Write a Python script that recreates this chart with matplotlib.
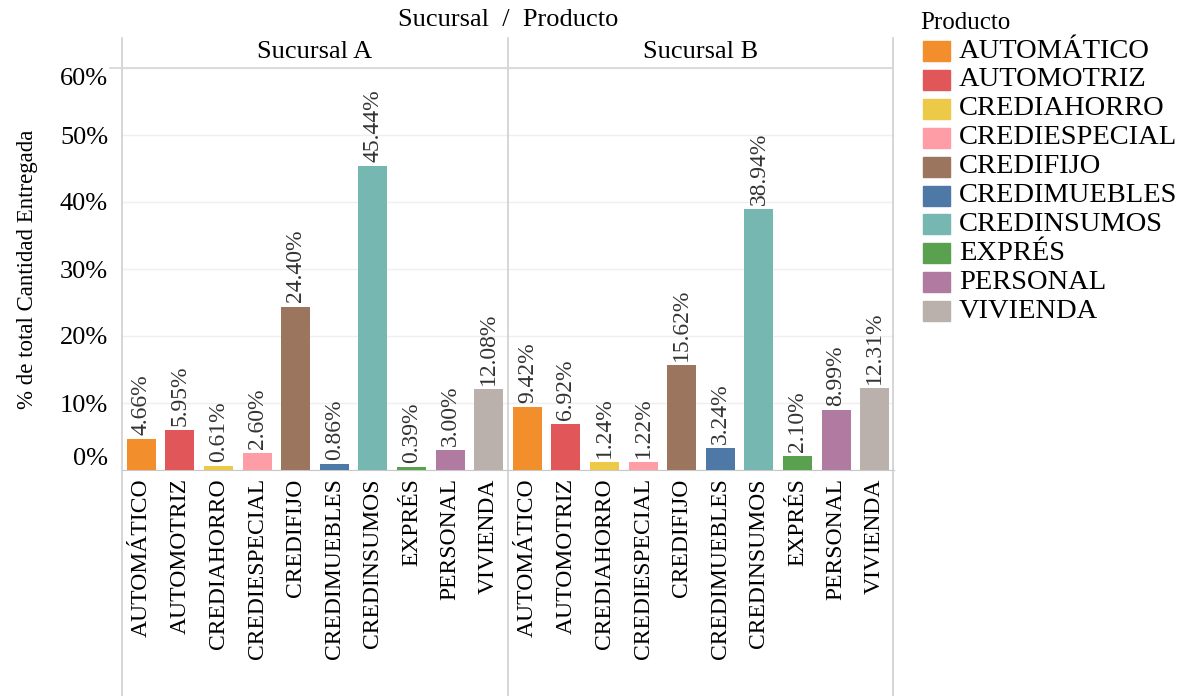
import numpy as np
import matplotlib.pyplot as plt
from matplotlib.lines import Line2D

plt.rcParams['font.family'] = ['Liberation Serif', 'DejaVu Serif']

productos = ['AUTOMÁTICO', 'AUTOMOTRIZ', 'CREDIAHORRO', 'CREDIESPECIAL', 'CREDIFIJO',
             'CREDIMUEBLES', 'CREDINSUMOS', 'EXPRÉS', 'PERSONAL', 'VIVIENDA']
colores = ['#F28E2B', '#E15759', '#EDC948', '#FF9DA7', '#9C755F',
           '#4E79A7', '#76B7B2', '#59A14F', '#B07AA1', '#BAB0AC']
sucursales = ['Sucursal A', 'Sucursal B']
pct_a = [4.66, 5.95, 0.61, 2.60, 24.40, 0.86, 45.44, 0.39, 3.00, 12.08]
pct_b = [9.42, 6.92, 1.24, 1.22, 15.62, 3.24, 38.94, 2.10, 8.99, 12.31]

W, H = 1199, 696
fig = plt.figure(figsize=(W / 100, H / 100), dpi=100)

def fx(px):
    return px / W

def fy(py):
    return 1 - py / H

x0, xm, x1 = 122, 508, 893
ytop, ybase = 68, 470
yticks = np.arange(0, 61, 10)

for i, (nombre, vals) in enumerate(zip(sucursales, [pct_a, pct_b])):
    left = x0 if i == 0 else xm
    ax = fig.add_axes([fx(left), fy(ybase), fx(xm - x0), (ybase - ytop) / H])
    x = np.arange(len(productos))
    ax.bar(x, vals, width=0.75, color=colores, zorder=3)
    for xi, v in zip(x, vals):
        ax.text(xi, v + 0.6, f'{v:.2f}%', rotation=90, ha='center', va='bottom',
                fontsize=17, color='#333333')
    ax.set_xlim(-0.5, len(productos) - 0.5)
    ax.set_ylim(0, 60)
    ax.set_yticks(yticks)
    ax.yaxis.grid(True, color='#efefef', lw=1, zorder=0)
    ax.set_xticks(x)
    ax.set_xticklabels(productos, rotation=90, fontsize=17, va='top')
    ax.tick_params(axis='x', length=0, pad=6)
    for s in ['top', 'right', 'left']:
        ax.spines[s].set_visible(False)
    ax.spines['bottom'].set_color('#c8c8c8')
    if i == 0:
        ax.set_yticklabels([f'{t}%' for t in yticks], fontsize=19)
        ax.tick_params(axis='y', length=0, pad=10)
        labs = ax.get_yticklabels()
        labs[0].set_va('bottom')
        labs[-1].set_va('top')
        ax.set_ylabel('% de total Cantidad Entregada', fontsize=16.5, labelpad=16)
    else:
        ax.tick_params(axis='y', length=0, labelleft=False)
    fig.text(fx(left + (xm - x0) / 2), fy(52), nombre, ha='center', va='center', fontsize=19)

# marco de encabezados y divisiones
for xv in [x0, xm, x1]:
    fig.add_artist(Line2D([fx(xv), fx(xv)], [fy(38), 0], color='#cfcfcf', lw=1.2))
fig.add_artist(Line2D([fx(110), fx(x1)], [fy(ytop), fy(ytop)], color='#d6d6d6', lw=1.2))
fig.text(fx(xm), fy(20), 'Sucursal  /  Producto', ha='center', va='center', fontsize=19)

# leyenda
fig.text(fx(920), fy(23), 'Producto', ha='left', va='center', fontsize=18)
for k, (p, c) in enumerate(zip(productos, colores)):
    yc = 51 + k * 28.9
    fig.patches.append(plt.Rectangle((fx(923), fy(yc + 10)), fx(27), 20 / H,
                                     transform=fig.transFigure, color=c))
    fig.text(fx(959), fy(yc), p, ha='left', va='center', fontsize=20.5)

fig.savefig('out.png', dpi=100)
